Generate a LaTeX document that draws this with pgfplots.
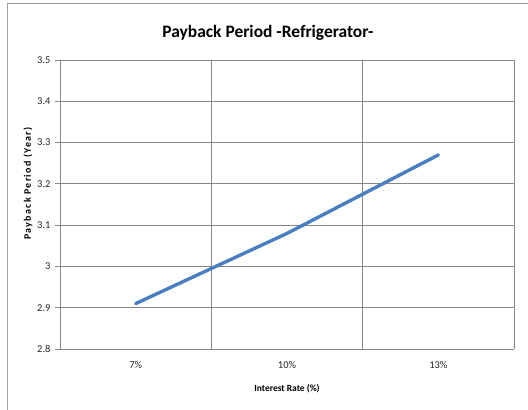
\documentclass[border=0pt]{standalone}
\usepackage{pgfplots}
\pgfplotsset{compat=1.18}
\usepackage{fontspec}
\setmainfont{Carlito}
\newfontfamily\spaced[LetterSpace=13]{Carlito}
\definecolor{gridc}{HTML}{878787}
\definecolor{linec}{HTML}{4A7EBF}
\begin{document}
\begin{tikzpicture}[x=1bp,y=1bp]
\path[use as bounding box] (0,0) rectangle (528,409);
\draw[gridc!80,line width=0.8bp] (7,-2) -- (7,406) -- (530,406);
\begin{axis}[
  at={(60bp,60bp)}, anchor=origin,
  scale only axis, width=454bp, height=289bp,
  xmin=0, xmax=3, ymin=2.8, ymax=3.5,
  ytick={2.8,2.9,3,3.1,3.2,3.3,3.4,3.5},
  yticklabels={2.8,2.9,3,3.1,3.2,3.3,3.4,3.5},
  xtick={0.5,1.5,2.5},
  xticklabels={7\%,10\%,13\%},
  major x tick style={draw=none},
  extra x ticks={0,1,2,3},
  extra x tick labels={},
  extra x tick style={grid=major, tick style={draw=gridc, line width=0.8bp}, major tick length=5bp},
  ymajorgrids,
  grid style={draw=gridc, line width=0.8bp},
  axis line style={draw=gridc, line width=0.8bp},
  axis x line*=bottom, axis y line*=left,
  tick align=outside, major tick length=5bp,
  ytick style={draw=gridc, line width=0.8bp},
  tick label style={font=\fontsize{10.5}{12}\selectfont, text=black!85},
  /pgf/number format/assume math mode=true,
  xticklabel style={yshift=-4bp},
  yticklabel style={xshift=-1bp},
  xlabel={\textbf{Interest Rate (\%)}},
  xlabel style={font=\fontsize{9.5}{11}\selectfont, yshift=1bp},
  ylabel={\spaced\bfseries Payback Period (Year)},
  ylabel style={font=\fontsize{10}{12}\selectfont, yshift=-2bp, xshift=21bp},
  clip=false,
]
\addplot[linec, line width=3.4bp, line cap=round] coordinates {(0.5,2.91) (1.5,3.08) (2.5,3.27)};
\end{axis}
\node[font=\fontsize{17.5}{20}\selectfont\bfseries] at (268,376) {Payback Period -Refrigerator-};
\end{tikzpicture}
\end{document}
